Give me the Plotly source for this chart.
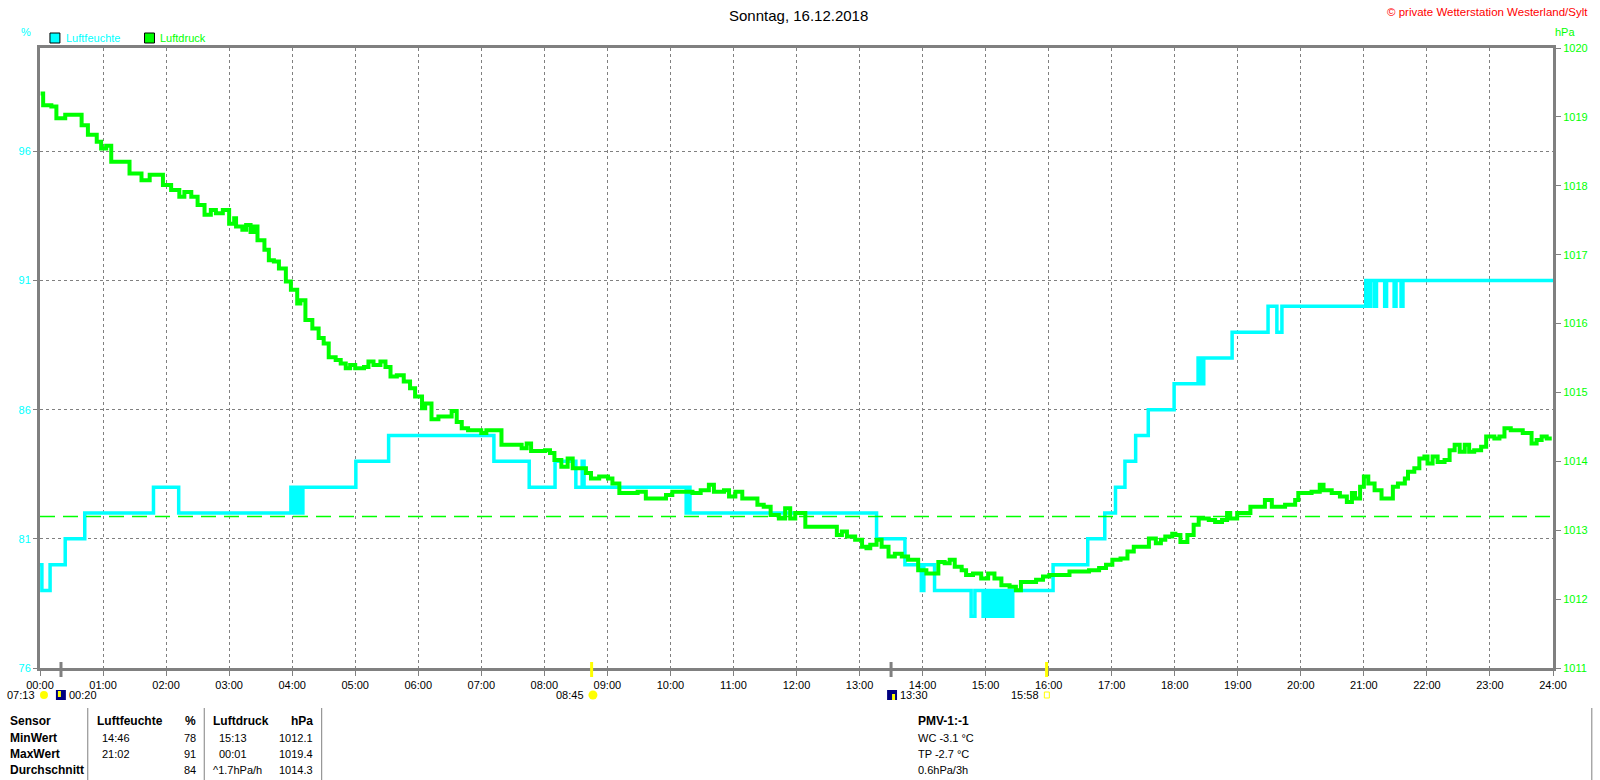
import plotly.graph_objects as go

# ---------------- data ----------------
hours = list(range(25))
hour_labels = [f"{h:02d}:00" for h in hours]
humid_ticks = [76, 81, 86, 91, 96]
press_ticks = list(range(1011, 1021))
press_ref = 1013.2

humid_t = [0.00, 0.03, 0.16, 0.40, 0.71, 1.80, 2.20, 3.98, 4.02, 4.05,
           4.08, 4.12, 4.15, 4.17, 5.01, 5.53, 7.20, 7.76, 8.17, 8.50,
           8.60, 8.63, 10.25, 10.28, 10.31, 13.27, 13.72, 13.98, 14.02, 14.19,
           14.77, 14.83, 14.96, 15.01, 15.04, 15.08, 15.11, 15.15, 15.18, 15.22,
           15.25, 15.29, 15.32, 15.36, 15.39, 15.43, 16.07, 16.62, 16.89, 17.06,
           17.21, 17.38, 17.58, 17.99, 18.37, 18.40, 18.42, 18.44, 18.46, 18.91,
           19.48, 19.62, 19.70, 21.03, 21.08, 21.11, 21.17, 21.20, 21.33, 21.36,
           21.48, 21.51, 21.59, 21.62, 24.00]
humid_v = [80, 79, 80, 81, 82, 83, 82, 83, 82, 83,
           82, 83, 82, 83, 84, 85, 84, 83, 84, 83,
           84, 83, 82, 83, 82, 81, 80, 79, 80, 79,
           78, 79, 78, 79, 78, 79, 78, 79, 78, 79,
           78, 79, 78, 79, 78, 79, 80, 81, 82, 83,
           84, 85, 86, 87, 88, 87, 88, 87, 88, 89,
           90, 89, 90, 91, 90, 91, 90, 91, 90, 91,
           90, 91, 90, 91, 91]

press_t = [0.01, 0.05, 0.18, 0.26, 0.40, 0.55, 0.66, 0.76, 0.90, 0.97,
           1.05, 1.13, 1.32, 1.42, 1.61, 1.74, 1.87, 1.95, 2.08, 2.21,
           2.29, 2.40, 2.50, 2.61, 2.71, 2.79, 2.90, 3.00, 3.08, 3.11,
           3.21, 3.27, 3.34, 3.40, 3.45, 3.56, 3.63, 3.71, 3.79, 3.90,
           3.98, 4.08, 4.13, 4.21, 4.32, 4.42, 4.50, 4.58, 4.69, 4.77,
           4.85, 4.92, 5.00, 5.14, 5.21, 5.29, 5.40, 5.48, 5.56, 5.66,
           5.77, 5.87, 5.95, 6.06, 6.11, 6.21, 6.32, 6.48, 6.53, 6.61,
           6.69, 6.79, 7.00, 7.08, 7.24, 7.32, 7.53, 7.64, 7.72, 7.79,
           8.01, 8.09, 8.16, 8.27, 8.37, 8.45, 8.58, 8.66, 8.74, 8.87,
           9.01, 9.08, 9.19, 9.37, 9.48, 9.61, 9.80, 9.93, 10.03, 10.22,
           10.35, 10.48, 10.61, 10.69, 10.85, 10.93, 11.03, 11.14, 11.30, 11.38,
           11.48, 11.59, 11.72, 11.82, 11.90, 11.98, 12.14, 12.32, 12.53, 12.64,
           12.72, 12.80, 12.93, 13.04, 13.11, 13.17, 13.27, 13.35, 13.46, 13.56,
           13.67, 13.77, 13.93, 14.06, 14.14, 14.25, 14.35, 14.43, 14.51, 14.62,
           14.69, 14.80, 14.93, 15.04, 15.14, 15.25, 15.38, 15.48, 15.56, 15.69,
           15.80, 15.91, 16.01, 16.12, 16.33, 16.64, 16.80, 16.91, 17.01, 17.14,
           17.25, 17.35, 17.46, 17.59, 17.70, 17.78, 17.85, 17.96, 18.01, 18.09,
           18.20, 18.30, 18.38, 18.54, 18.64, 18.75, 18.83, 18.88, 18.99, 19.09,
           19.20, 19.33, 19.43, 19.54, 19.64, 19.75, 19.91, 19.96, 20.07, 20.17,
           20.30, 20.36, 20.49, 20.62, 20.73, 20.81, 20.86, 20.94, 21.00, 21.07,
           21.17, 21.28, 21.38, 21.46, 21.54, 21.65, 21.70, 21.80, 21.88, 21.96,
           22.01, 22.09, 22.17, 22.28, 22.36, 22.44, 22.52, 22.60, 22.67, 22.75,
           22.86, 22.94, 23.07, 23.15, 23.23, 23.33, 23.44, 23.52, 23.61, 23.66,
           23.74, 23.82, 23.90, 23.98]
press_v = [1019.34, 1019.17, 1019.15, 1018.98, 1019.03, 1019.03, 1018.88, 1018.74, 1018.64, 1018.54,
           1018.58, 1018.35, 1018.35, 1018.18, 1018.08, 1018.16, 1018.16, 1018.01, 1017.94, 1017.84,
           1017.91, 1017.84, 1017.72, 1017.58, 1017.65, 1017.60, 1017.65, 1017.45, 1017.53, 1017.41,
           1017.36, 1017.43, 1017.33, 1017.41, 1017.21, 1017.07, 1016.92, 1016.90, 1016.80, 1016.61,
           1016.49, 1016.29, 1016.34, 1016.05, 1015.93, 1015.79, 1015.71, 1015.51, 1015.47, 1015.42,
           1015.35, 1015.40, 1015.35, 1015.37, 1015.45, 1015.40, 1015.45, 1015.37, 1015.23, 1015.25,
           1015.16, 1015.06, 1014.94, 1014.77, 1014.84, 1014.61, 1014.65, 1014.65, 1014.73, 1014.57,
           1014.48, 1014.45, 1014.41, 1014.45, 1014.45, 1014.24, 1014.24, 1014.19, 1014.26, 1014.15,
           1014.16, 1014.12, 1014.02, 1013.92, 1014.04, 1013.90, 1013.90, 1013.83, 1013.75, 1013.78,
           1013.75, 1013.68, 1013.54, 1013.54, 1013.56, 1013.46, 1013.46, 1013.51, 1013.56, 1013.56,
           1013.54, 1013.58, 1013.66, 1013.56, 1013.58, 1013.49, 1013.56, 1013.46, 1013.46, 1013.37,
           1013.34, 1013.22, 1013.17, 1013.32, 1013.17, 1013.25, 1013.05, 1013.05, 1013.05, 1012.93,
           1012.98, 1012.91, 1012.86, 1012.76, 1012.74, 1012.79, 1012.86, 1012.76, 1012.62, 1012.66,
           1012.62, 1012.57, 1012.42, 1012.37, 1012.37, 1012.54, 1012.52, 1012.57, 1012.47, 1012.42,
           1012.35, 1012.37, 1012.30, 1012.37, 1012.30, 1012.20, 1012.18, 1012.13, 1012.25, 1012.25,
           1012.28, 1012.33, 1012.35, 1012.35, 1012.40, 1012.42, 1012.45, 1012.50, 1012.57, 1012.59,
           1012.69, 1012.76, 1012.76, 1012.88, 1012.81, 1012.86, 1012.91, 1012.95, 1012.93, 1012.83,
           1012.93, 1013.08, 1013.17, 1013.15, 1013.12, 1013.15, 1013.25, 1013.17, 1013.25, 1013.25,
           1013.34, 1013.34, 1013.44, 1013.34, 1013.34, 1013.37, 1013.44, 1013.54, 1013.54, 1013.56,
           1013.66, 1013.58, 1013.54, 1013.49, 1013.41, 1013.54, 1013.46, 1013.63, 1013.78, 1013.68,
           1013.58, 1013.46, 1013.46, 1013.63, 1013.68, 1013.75, 1013.85, 1013.90, 1014.04, 1014.07,
           1013.97, 1014.07, 1013.99, 1014.02, 1014.16, 1014.24, 1014.14, 1014.24, 1014.14, 1014.16,
           1014.21, 1014.36, 1014.33, 1014.36, 1014.48, 1014.45, 1014.45, 1014.41, 1014.41, 1014.26,
           1014.31, 1014.36, 1014.33, 1014.33]

# sun / moon events on the time axis
event_t = [0.333, 8.75, 13.5, 15.967]
event_color = ["#808080", "#FFFF00", "#808080", "#FFFF00"]

# statistics table
row_labels = ["Sensor", "MinWert", "MaxWert", "Durchschnitt"]
hum_time = ["Luftfeuchte", "14:46", "21:02", ""]
hum_val = ["%", "78", "91", "84"]
pr_time = ["Luftdruck", "15:13", "00:01", "^1.7hPa/h"]
pr_val = ["hPa", "1012.1", "1019.4", "1014.3"]
pmv_text = ["PMV-1:-1", "WC -3.1 °C", "TP -2.7 °C", "0.6hPa/3h"]

CYAN = "#00FFFF"
GREEN = "#00FF00"
GRAY = "#808080"
FONT = "Liberation Sans, Arial, sans-serif"

# plot area in pixels: x 40..1560, y 48..668
L, R, T, B = 40, 1560, 48, 668
def X(px):
    return (px - L) / (R - L)
def Y(py):
    return (B - py) / (B - T)

fig = go.Figure()

fig.add_trace(go.Scatter(x=[0, 24], y=[press_ref, press_ref], yaxis="y2", mode="lines",
                         line=dict(color=GREEN, width=1.5, dash="15px,8px"), hoverinfo="skip"))
fig.add_trace(go.Scatter(x=humid_t, y=humid_v, mode="lines", line_shape="hv",
                         line=dict(color=CYAN, width=3.5), name="Luftfeuchte"))
fig.add_trace(go.Scatter(x=press_t, y=press_v, yaxis="y2", mode="lines", line_shape="hv",
                         line=dict(color=GREEN, width=4), name="Luftdruck"))

shapes = []
annotations = []

def txt(px, py, s, color="black", size=11, anchor="left", bold=False):
    annotations.append(dict(xref="paper", yref="paper", x=X(px), y=Y(py),
                            text=f"<b>{s}</b>" if bold else s, showarrow=False,
                            xanchor=anchor, yanchor="middle",
                            font=dict(family=FONT, size=size, color=color)))

# title, copyright, axis units
txt(802, 15, "Sonntag, 16.12.2018", size=15, anchor="center")
txt(1597, 12, "© private Wetterstation Westerland/Sylt", color="#FF0000", size=11.5, anchor="right")
txt(26, 32, "%", color=CYAN, size=11, anchor="center")
txt(1560, 32, "hPa", color=GREEN, size=11)

# legend
for x0, col, name in [(50, CYAN, "Luftfeuchte"), (145, GREEN, "Luftdruck")]:
    shapes.append(dict(type="rect", xref="paper", yref="paper", x0=X(x0), x1=X(x0 + 10),
                       y0=Y(43), y1=Y(33), fillcolor=col, line=dict(color="black", width=1)))
    txt(x0 + 14, 38, name, color=col, size=11)

# event ticks on the time axis
for t, c in zip(event_t, event_color):
    shapes.append(dict(type="line", xref="x", yref="paper", x0=t, x1=t, y0=Y(662), y1=Y(677),
                       line=dict(color=c, width=3)))

# event labels and icons
EY = 695
txt(37, EY, "07:13", anchor="right")
shapes.append(dict(type="circle", xref="paper", yref="paper", x0=X(40), x1=X(48), y0=Y(EY + 4), y1=Y(EY - 4),
                   fillcolor="#FFFF00", line=dict(color="#FFFF00", width=0)))
shapes.append(dict(type="rect", xref="paper", yref="paper", x0=X(56), x1=X(66), y0=Y(EY + 5), y1=Y(EY - 5),
                   fillcolor="#000080", line=dict(width=0)))
shapes.append(dict(type="rect", xref="paper", yref="paper", x0=X(58), x1=X(61), y0=Y(EY + 2), y1=Y(EY - 4),
                   fillcolor="#FFFF00", line=dict(width=0)))
txt(67, EY, "00:20")
txt(589, EY, "08:45", anchor="right")
shapes.append(dict(type="circle", xref="paper", yref="paper", x0=X(591), x1=X(600), y0=Y(EY + 4.5), y1=Y(EY - 4.5),
                   fillcolor="#FFFF00", line=dict(color="#FFFF00", width=0)))
shapes.append(dict(type="rect", xref="paper", yref="paper", x0=X(891), x1=X(901), y0=Y(EY + 5), y1=Y(EY - 5),
                   fillcolor="#000080", line=dict(width=0)))
shapes.append(dict(type="rect", xref="paper", yref="paper", x0=X(896), x1=X(899), y0=Y(EY + 5), y1=Y(EY - 1),
                   fillcolor="#FFFF00", line=dict(width=0)))
txt(902, EY, "13:30")
txt(1046, EY, "15:58", anchor="right")
shapes.append(dict(type="rect", xref="paper", yref="paper", x0=X(1049), x1=X(1054), y0=Y(EY + 3), y1=Y(EY - 3),
                   fillcolor="white", line=dict(color="#FFFF00", width=1)))

# table
row_y = [721, 737.5, 754, 770]
for sx in [88, 205, 323, 1599]:
    shapes.append(dict(type="line", xref="paper", yref="paper", x0=X(sx), x1=X(sx), y0=Y(708), y1=Y(780),
                       line=dict(color=GRAY, width=1)))
for i, y in enumerate(row_y):
    head = (i == 0)
    txt(8, y, row_labels[i], size=12, bold=True)
    txt(95 if head else 100, y, hum_time[i], size=12 if head else 11, bold=head)
    txt(199, y, hum_val[i], size=12 if head else 11, bold=head, anchor="right")
    txt(212 if (head or i == 3) else 218, y, pr_time[i], size=12 if head else 11, bold=head)
    txt(316, y, pr_val[i], size=12 if head else 11, bold=head, anchor="right")
    txt(920, y, pmv_text[i], size=12 if head else 11, bold=head)

grid = dict(showgrid=True, gridcolor=GRAY, gridwidth=1, griddash="3px,3px")
fig.update_layout(
    width=1600, height=780,
    margin=dict(l=L, r=1600 - R, t=T, b=780 - B),
    plot_bgcolor="white", paper_bgcolor="white",
    showlegend=False,
    font=dict(family=FONT, size=11, color="black"),
    xaxis=dict(range=[0, 24], tickvals=hours, ticktext=hour_labels, **grid,
               showline=True, linecolor=GRAY, linewidth=3, mirror=True,
               ticks="outside", ticklen=5, tickcolor=GRAY, zeroline=False,
               tickfont=dict(family=FONT, size=11, color="black")),
    yaxis=dict(range=[76, 100], tickvals=humid_ticks, **grid,
               showline=True, linecolor=GRAY, linewidth=3,
               ticks="outside", ticklen=4, tickcolor=GRAY, zeroline=False,
               tickfont=dict(family=FONT, size=11, color=CYAN)),
    yaxis2=dict(range=[1011, 1020], tickvals=press_ticks, overlaying="y", side="right",
                showgrid=False, showline=True, linecolor=GRAY, linewidth=3,
                ticks="outside", ticklen=5, tickcolor=GRAY, zeroline=False,
                tickfont=dict(family=FONT, size=11, color=GREEN)),
    shapes=shapes,
    annotations=annotations,
)

fig.write_html("out.html", config={"displayModeBar": False},
               post_script="document.body.style.margin='0';document.body.style.overflow='hidden';")
